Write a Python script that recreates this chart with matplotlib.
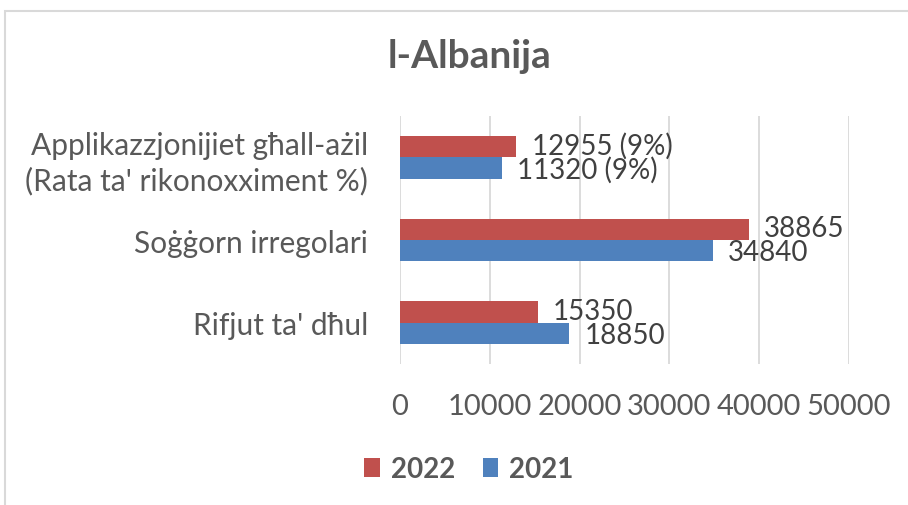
import matplotlib
matplotlib.use("Agg")
import matplotlib.pyplot as plt
from matplotlib.patches import Rectangle
import numpy as np

plt.rcParams['font.family'] = ['Lato', 'DejaVu Sans']

# dati (minn isfel għal fuq)
categories = ["Rifjut ta' dħul", "Soġġorn irregolari",
              "Applikazzjonijiet għall-ażil\n(Rata ta' rikonoxximent %)"]
values_2022 = [15350, 38865, 12955]
values_2021 = [18850, 34840, 11320]
rate_2022 = [None, None, 9]
rate_2021 = [None, None, 9]
xticks = [0, 10000, 20000, 30000, 40000, 50000]

red = '#C0504D'
blue = '#4F81BD'
grey = '#595959'

fig = plt.figure(figsize=(9.08, 5.06), dpi=100)
ax = fig.add_axes([400 / 908, 1 - 365 / 506, 449 / 908, 248 / 506])

y = np.arange(len(categories))
h = 0.26
bars22 = ax.barh(y + h / 2, values_2022, height=h, color=red, label='2022')
bars21 = ax.barh(y - h / 2, values_2021, height=h, color=blue, label='2021')


def lab(v, r):
    return f'{v}' if r is None else f'{v} ({r}%)'


for b, v, r in zip(bars22, values_2022, rate_2022):
    ax.annotate(lab(v, r), (b.get_width(), b.get_y() + b.get_height() / 2),
                xytext=(11, 1), textcoords='offset points', va='center',
                fontsize=20, color='#404040')
for b, v, r in zip(bars21, values_2021, rate_2021):
    ax.annotate(lab(v, r), (b.get_width(), b.get_y() + b.get_height() / 2),
                xytext=(11, -1), textcoords='offset points', va='center',
                fontsize=20, color='#404040')

ax.set_xlim(0, 50000)
ax.set_ylim(-0.5, 2.5)
ax.set_xticks(xticks)
ax.set_xticklabels([str(t) for t in xticks])
ax.set_yticks(y)
ax.set_yticklabels(categories, linespacing=1.25)
ax.tick_params(axis='x', length=0, pad=21, labelsize=21, labelcolor=grey)
ax.tick_params(axis='y', length=0, pad=23, labelsize=21.5, labelcolor=grey)
for s in ax.spines.values():
    s.set_visible(False)
ax.grid(axis='x', color='#D9D9D9', linewidth=1.3)
ax.set_axisbelow(True)

fig.text(470 / 908, 1 - 56 / 506, 'l-Albanija', ha='center', va='center',
         fontsize=28, fontweight='bold', color=grey)

fig.legend(handles=[bars22, bars21], labels=['2022', '2021'], loc='center',
           bbox_to_anchor=(469 / 908, 1 - 470 / 506), ncol=2, frameon=False,
           handlelength=0.55, handleheight=0.7, handletextpad=0.4,
           columnspacing=1.0, prop={'size': 20, 'weight': 'bold'},
           labelcolor=grey)

# kornič
fig.patches.append(Rectangle((5 / 908, -0.2), 1.2, 1.2 - 12 / 506,
                             transform=fig.transFigure, fill=False,
                             edgecolor='#D9D9D9', linewidth=1.5))

fig.savefig('out.png', dpi=100)
